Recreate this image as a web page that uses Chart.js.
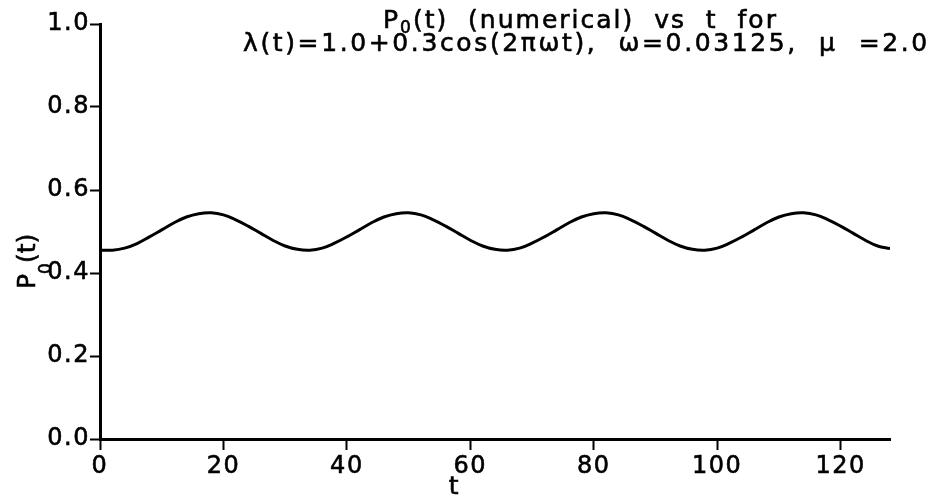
<!DOCTYPE html>
<html>
<head>
<meta charset="utf-8">
<script src="https://cdn.jsdelivr.net/npm/chart.js@4.4.1/dist/chart.umd.min.js"></script>
<style>
  html, body { margin: 0; padding: 0; background: #fff; }
  #wrap { width: 935px; height: 498px; }
</style>
</head>
<body>
<div id="wrap"><canvas id="c" width="935" height="498"></canvas></div>
<script>
// Sample times t
const tValues = [
  0, 2, 4, 6, 8, 10, 12, 14, 16, 18, 20, 22, 24, 26, 28, 30,
  32, 34, 36, 38, 40, 42, 44, 46, 48, 50, 52, 54, 56, 58, 60, 62,
  64, 66, 68, 70, 72, 74, 76, 78, 80, 82, 84, 86, 88, 90, 92, 94,
  96, 98, 100, 102, 104, 106, 108, 110, 112, 114, 116, 118, 120, 122, 124, 126,
  128
];

// P0(t), numerical solution
const p0Values = [
  0.455, 0.455, 0.460, 0.471, 0.487, 0.504, 0.521, 0.535, 0.543, 0.545, 0.540, 0.528, 0.513, 0.496, 0.479, 0.465,
  0.457, 0.455, 0.460, 0.472, 0.487, 0.504, 0.521, 0.535, 0.543, 0.545, 0.540, 0.528, 0.513, 0.496, 0.479, 0.465,
  0.457, 0.455, 0.460, 0.472, 0.487, 0.504, 0.521, 0.535, 0.543, 0.545, 0.540, 0.528, 0.513, 0.496, 0.479, 0.465,
  0.457, 0.455, 0.460, 0.472, 0.487, 0.504, 0.521, 0.535, 0.543, 0.545, 0.540, 0.528, 0.513, 0.496, 0.479, 0.465,
  0.459
];

const xTickValues = [0, 20, 40, 60, 80, 100, 120];
const yTickValues = [0.0, 0.2, 0.4, 0.6, 0.8, 1.0];

const titleLine1 = [{ text: 'P' }, { text: '0', sub: true }, { text: '(t)  (numerical)  vs  t  for' }];
const titleLine2 = [{ text: 'λ(t)=1.0+0.3cos(2πωt),  ω=0.03125,  μ  =2.0' }];
const xAxisLabel = 't';
const yAxisLabel = [{ text: 'P' }, { text: '0', sub: true }, { text: '(t)' }];

const FONT = '"DejaVu Sans", Verdana, sans-serif';

// Draw a run of text segments (with subscripts) spread to a given width
function drawRuns(ctx, runs, x, y, size, targetWidth) {
  const subSize = Math.round(size * 0.68);
  let natural = 0, chars = 0;
  ctx.letterSpacing = '0px';
  runs.forEach(r => {
    ctx.font = (r.sub ? subSize : size) + 'px ' + FONT;
    natural += ctx.measureText(r.text).width;
    chars += r.text.length;
  });
  const spacing = targetWidth ? Math.max(0, (targetWidth - natural) / chars) : 0;
  ctx.letterSpacing = spacing.toFixed(2) + 'px';
  let cx = x;
  runs.forEach(r => {
    ctx.font = (r.sub ? subSize : size) + 'px ' + FONT;
    const yy = y + (r.sub ? r.drop || 5 : 0);
    ctx.fillText(r.text, cx, yy);
    ctx.strokeText(r.text, cx, yy);
    cx += ctx.measureText(r.text).width;
  });
  ctx.letterSpacing = '0px';
}

const textPlugin = {
  id: 'plotText',
  beforeDraw(chart) {
    chart.ctx.letterSpacing = '1.5px';
  },
  afterDraw(chart) {
    const ctx = chart.ctx;
    ctx.save();
    ctx.fillStyle = '#000';
    ctx.strokeStyle = '#000';
    ctx.lineWidth = 0.6;
    ctx.textBaseline = 'alphabetic';
    ctx.textAlign = 'left';

    // two-line title
    drawRuns(ctx, titleLine1, 383, 28, 25, 395);
    drawRuns(ctx, titleLine2, 243, 51, 25, 687);

    // x axis label
    ctx.font = '25px ' + FONT;
    ctx.letterSpacing = '0px';
    ctx.textAlign = 'center';
    const xs = chart.scales.x;
    const tx = xs.getPixelForValue(57.3);
    ctx.fillText(xAxisLabel, tx, 494);
    ctx.strokeText(xAxisLabel, tx, 494);

    // y axis label, rotated
    ctx.textAlign = 'left';
    ctx.translate(35, 289);
    ctx.rotate(-Math.PI / 2);
    const yl = yAxisLabel.map(r => r.sub ? Object.assign({ drop: 16 }, r) : r);
    drawRuns(ctx, yl, 0, 0, 25, 0);
    ctx.restore();
  }
};

const points = tValues.map((t, i) => ({ x: t, y: p0Values[i] }));

new Chart(document.getElementById('c'), {
  type: 'line',
  data: {
    datasets: [{
      data: points,
      borderColor: '#000',
      borderWidth: 3,
      pointRadius: 0,
      tension: 0.4,
      fill: false
    }]
  },
  options: {
    responsive: false,
    animation: false,
    devicePixelRatio: 1,
    layout: { padding: { top: 24, right: 45, left: 0, bottom: 0 } },
    plugins: { legend: { display: false }, title: { display: false }, tooltip: { enabled: false } },
    scales: {
      x: {
        type: 'linear',
        min: 0,
        max: 128,
        afterBuildTicks(scale) { scale.ticks = xTickValues.map(v => ({ value: v })); },
        afterFit(scale) { scale.height = 59; },
        ticks: {
          includeBounds: false,
          color: '#000',
          textStrokeColor: '#000',
          textStrokeWidth: 0.6,
          padding: 2,
          maxRotation: 0,
          autoSkip: false,
          font: { family: FONT, size: 24 },
          callback: v => String(v)
        },
        grid: { drawOnChartArea: false, drawTicks: true, tickLength: 11, tickColor: '#000', tickWidth: 2 },
        border: { display: true, color: '#000', width: 3 }
      },
      y: {
        type: 'linear',
        min: 0,
        max: 1,
        afterBuildTicks(scale) { scale.ticks = yTickValues.map(v => ({ value: v })); },
        afterFit(scale) { scale.width = 100; },
        ticks: {
          color: '#000',
          textStrokeColor: '#000',
          textStrokeWidth: 0.6,
          padding: 0,
          autoSkip: false,
          font: { family: FONT, size: 24 },
          callback: v => Number(v).toFixed(1)
        },
        grid: { drawOnChartArea: false, drawTicks: true, tickLength: 10, tickColor: '#000', tickWidth: 2 },
        border: { display: true, color: '#000', width: 3 }
      }
    }
  },
  plugins: [textPlugin]
});
</script>
</body>
</html>
